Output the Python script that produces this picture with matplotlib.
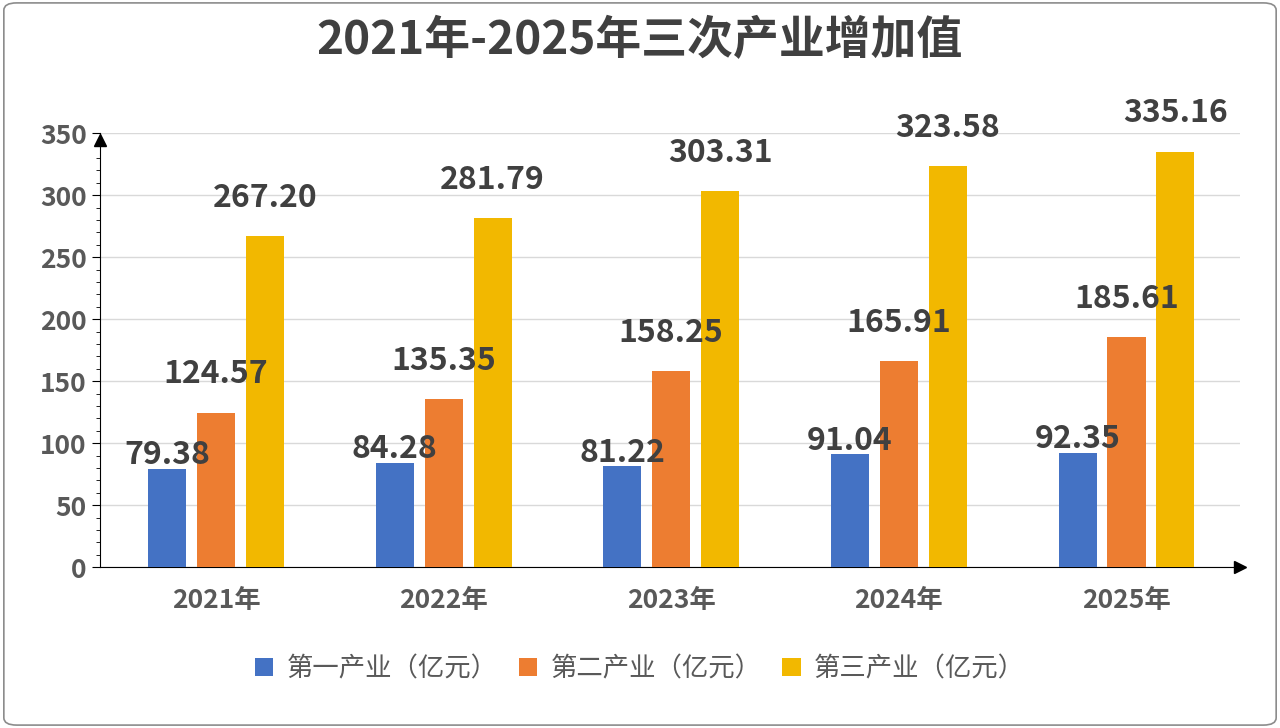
import numpy as np
import matplotlib.pyplot as plt
from matplotlib.patches import FancyBboxPatch

plt.rcParams['font.family'] = ['Noto Sans CJK SC', 'DejaVu Sans']

years = ["2021年", "2022年", "2023年", "2024年", "2025年"]
primary = [79.38, 84.28, 81.22, 91.04, 92.35]
secondary = [124.57, 135.35, 158.25, 165.91, 185.61]
tertiary = [267.20, 281.79, 303.31, 323.58, 335.16]
series_names = ["第一产业（亿元）", "第二产业（亿元）", "第三产业（亿元）"]
colors = ["#4472C4", "#ED7D31", "#F2B800"]

fig = plt.figure(figsize=(12.8, 7.28), dpi=100)
fig.patches.append(FancyBboxPatch((0.003, 0.004), 0.994, 0.992, boxstyle="round,pad=0,rounding_size=0.01",
                                  transform=fig.transFigure, fill=False, ec="#8c8c8c", lw=1.2))
ax = fig.add_axes([0.078, 0.221, 0.891, 0.596])

x = np.arange(len(years))
w = 0.167
step = 0.215
offsets = [-2, 16, 16]
for i, vals in enumerate([primary, secondary, tertiary]):
    pos = x + (i - 1) * step
    ax.bar(pos, vals, w, color=colors[i], label=series_names[i], zorder=3)
for i, vals in enumerate([primary, secondary, tertiary]):
    pos = x + (i - 1) * step
    for p, v in zip(pos, vals):
        ax.annotate(f"{v:.2f}", (p, v), xytext=(0, offsets[i]), textcoords="offset points",
                    ha="center", va="bottom", fontsize=23, fontweight="bold", color="#404040",
                    zorder=5)

ax.set_xlim(-0.51, 4.5)
ax.set_ylim(0, 350)
ax.set_yticks(range(0, 351, 50))
ax.set_yticks(range(0, 351, 10), minor=True)
ax.yaxis.grid(True, color="#d9d9d9", lw=1, zorder=0)
ax.set_xticks(x)
ax.set_xticklabels(years)
for s in ["top", "right"]:
    ax.spines[s].set_visible(False)
ax.spines["left"].set_color("black")
ax.spines["bottom"].set_color("black")
ax.tick_params(axis="x", length=0, pad=14, labelsize=19, labelcolor="#595959")
ax.tick_params(axis="y", which="major", length=6, labelsize=19, labelcolor="#595959")
ax.tick_params(axis="y", which="minor", length=3)
for lab in ax.get_xticklabels() + ax.get_yticklabels():
    lab.set_fontweight("bold")
ax.plot(1, 0, ">k", transform=ax.transAxes, clip_on=False, ms=9)
ax.plot(0, 0.985, "^k", transform=ax.transAxes, clip_on=False, ms=9)

fig.suptitle("2021年-2025年三次产业增加值", y=0.975, fontsize=33, fontweight="bold", color="#404040")
fig.legend(loc="lower center", bbox_to_anchor=(0.5, 0.03), ncol=3, frameon=False, fontsize=19,
           handlelength=0.7, handleheight=0.7, handletextpad=0.5, columnspacing=0.8,
           labelcolor="#595959")
fig.savefig("out.png", dpi=100)
